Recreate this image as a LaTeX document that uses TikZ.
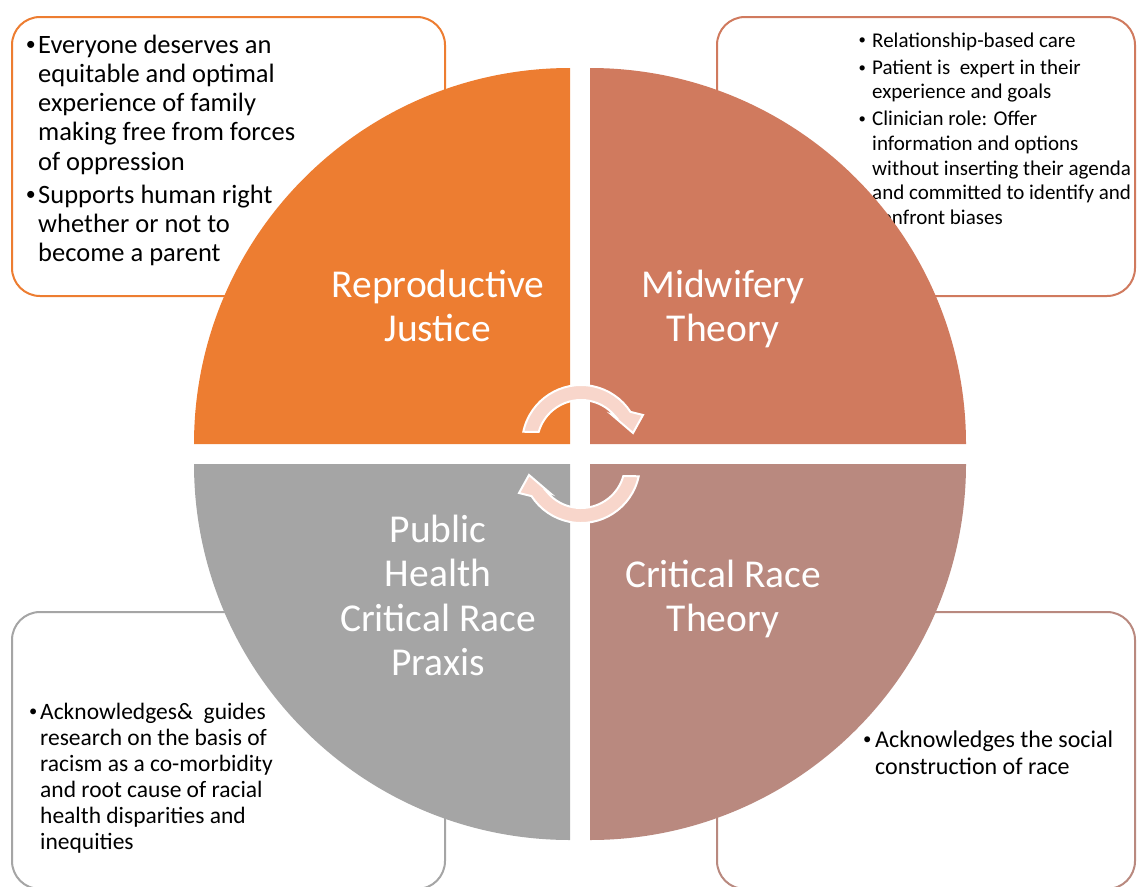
\documentclass[tikz,border=0pt]{standalone}
\usepackage{fontspec}
\setmainfont{Carlito}
\usepackage{tikz}
\definecolor{rjorange}{HTML}{ED7D31}
\definecolor{mwsalmon}{HTML}{D07A5E}
\definecolor{crtrose}{HTML}{B9897F}
\definecolor{phgray}{HTML}{A5A5A5}
\definecolor{arrowpeach}{HTML}{F8D6CB}
\tikzset{infobox/.style={line width=2pt,rounded corners=28pt,fill=white}}
\tikzset{infotext/.style={anchor=base west,inner sep=0pt,text=black}}
\tikzset{quadlabel/.style={anchor=base,inner sep=0pt,text=white,font=\fontsize{39.5}{44.5}\selectfont}}
\tikzset{cyclearrow/.style={fill=arrowpeach,draw=white,line width=2pt,line join=miter}}

\begin{document}
\begin{tikzpicture}[x=1pt,y=-1pt]
  \useasboundingbox (0,0) rectangle (1137,886);
  % boxes first, the circle covers their inner corners
  \draw[infobox,draw=rjorange] (12,17) rectangle (445,296);
  \draw[infobox,draw=mwsalmon] (717,17) rectangle (1135,296);
  \draw[infobox,draw=phgray] (12,612) rectangle (445,889);
  \draw[infobox,draw=crtrose] (717,612) rectangle (1135,889);

  \node[infotext,font=\fontsize{26.5}{29.3}\selectfont] (rjtext) at (23,53) {%
    \begin{tabular}[t]{@{}c@{}l@{}}
      \makebox[15pt]{\raisebox{.09em}{\scalebox{.75}{•}}} & Everyone deserves an\\
      & equitable and optimal\\
      & experience of family\\
      & making free from forces\\
      & of oppression\\[3.7pt]
      \makebox[15pt]{\raisebox{.09em}{\scalebox{.75}{•}}} & Supports human right\\
      & whether or not to\\
      & become a parent
    \end{tabular}};
  \node[infotext,font=\fontsize{21}{24.6}\selectfont] (mwtext) at (852,47) {%
    \begin{tabular}[t]{@{}c@{}l@{}}
      \makebox[20pt]{\raisebox{.1em}{\scalebox{.7}{•}}} & Relationship-based care\\[2.5pt]
      \makebox[20pt]{\raisebox{.1em}{\scalebox{.7}{•}}} & Patient is\ \ expert in their\\
      & experience and goals\\[2.5pt]
      \makebox[20pt]{\raisebox{.1em}{\scalebox{.7}{•}}} & Clinician role: Offer\\
      & information and options\\
      & without inserting their agenda\\
      & and committed to identify and\\
      & confront biases
    \end{tabular}};
  \node[infotext,font=\fontsize{23.5}{26}\selectfont] (phtext) at (26,719) {%
    \begin{tabular}[t]{@{}c@{}l@{}}
      \makebox[14pt]{\raisebox{.1em}{\scalebox{.7}{•}}} & Acknowledges\&\ \ guides\\
      & research on the basis of\\
      & racism as a co-morbidity\\
      & and root cause of racial\\
      & health disparities and\\
      & inequities
    \end{tabular}};
  \node[infotext,font=\fontsize{24}{27}\selectfont] (crttext) at (859,747) {%
    \begin{tabular}[t]{@{}c@{}l@{}}
      \makebox[16pt]{\raisebox{.1em}{\scalebox{.7}{•}}} & Acknowledges the social\\
      & construction of race
    \end{tabular}};

  % four quarter discs
  \foreach \cx/\cy/\a/\col in {570/444/180/rjorange,590/444/270/mwsalmon,590/464/0/crtrose,570/464/90/phgray}
    \fill[\col] (\cx,\cy) -- ++(\a:376) arc[start angle=\a,delta angle=90,radius=376] -- cycle;

  \node[quadlabel] (rjlabel) at (438,297) {\begin{tabular}[t]{@{}c@{}}Reproductive\\Justice\end{tabular}};
  \node[quadlabel] (mwlabel) at (723,297) {\begin{tabular}[t]{@{}c@{}}Midwifery\\Theory\end{tabular}};
  \node[quadlabel] (phlabel) at (438,542) {\begin{tabular}[t]{@{}c@{}}Public\\Health\\Critical Race\\Praxis\end{tabular}};
  \node[quadlabel] (crtlabel) at (723,587) {\begin{tabular}[t]{@{}c@{}}Critical Race\\Theory\end{tabular}};

  % the two turning arrows in the middle
  \foreach \r in {0,180}
    \draw[cyclearrow,rotate around={\r:(581,454)}] (581,444) ++(-168:59)
      arc[start angle=-168,end angle=-33,radius=59] -- (643,415) -- (633,433) -- (612,415)
      -- (615.2,416.3) arc[start angle=-39,end angle=-164,radius=44] -- cycle;
\end{tikzpicture}
\end{document}
